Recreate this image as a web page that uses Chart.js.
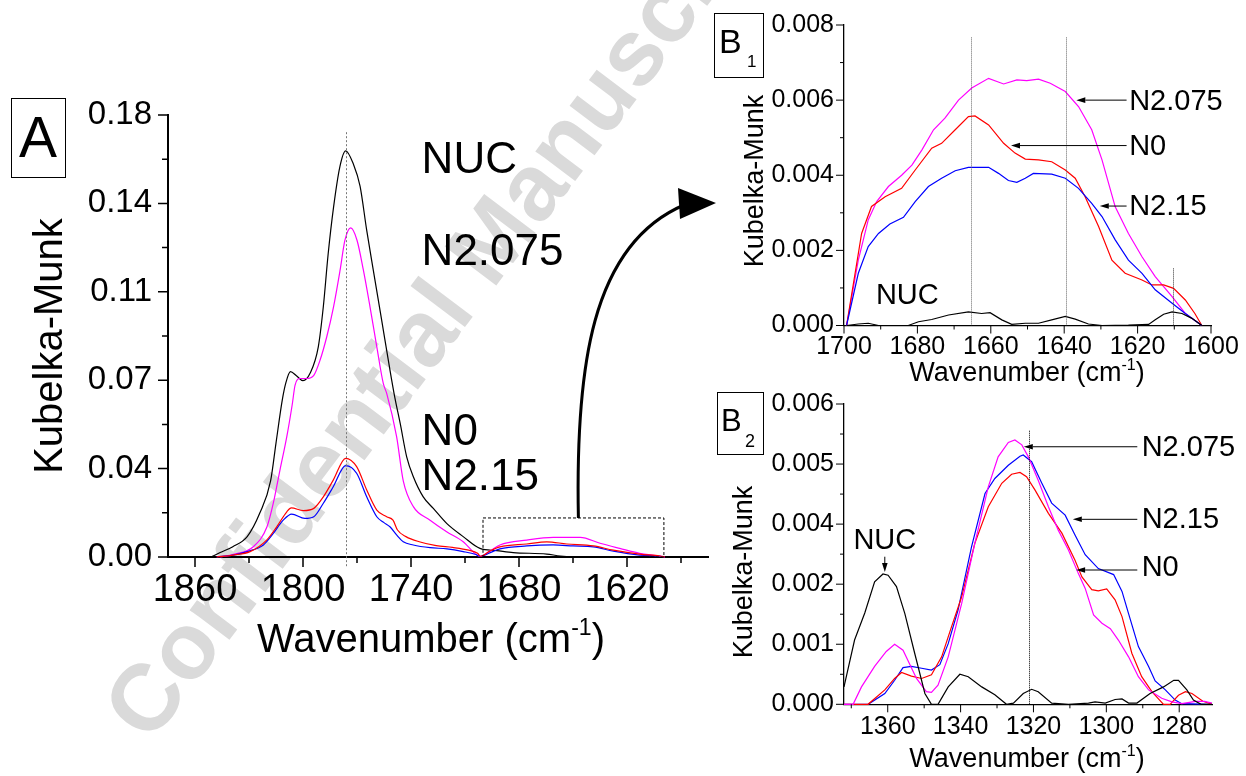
<!DOCTYPE html>
<html>
<head>
<meta charset="utf-8">
<title>Kubelka-Munk spectra</title>
<script src="https://cdn.jsdelivr.net/npm/chart.js@4.4.1/dist/chart.umd.min.js"></script>
<style>
  body { margin: 0; background: #fff; }
  #wrap { position: relative; width: 1246px; height: 776px; overflow: hidden; }
  canvas { position: absolute; left: 0; top: 0; }
</style>
</head>
<body>
<div id="wrap">
  <canvas id="chartA" width="1246" height="776"></canvas>
  <canvas id="chartB1" width="1246" height="776"></canvas>
  <canvas id="chartB2" width="1246" height="776"></canvas>
</div>
<script>
// ---- Panel A: full carbonyl region ----
const aNucX = [1851, 1846, 1839, 1831, 1824, 1818, 1815, 1811.5, 1809.5, 1807, 1803.5, 1800, 1796, 1791.5, 1788.7, 1786, 1783, 1779.5, 1776.3, 1772, 1768.3, 1764.6, 1761, 1756.3, 1752, 1749, 1746, 1742.4, 1738.7, 1733.2, 1727.6, 1720.2, 1711, 1701.7, 1692.4, 1683.2, 1664.6, 1657, 1640, 1600];
const aNucY = [0, 0.0018, 0.0042, 0.0083, 0.0179, 0.031, 0.0464, 0.064, 0.071, 0.0755, 0.0737, 0.0718, 0.0749, 0.0856, 0.102, 0.1236, 0.1426, 0.159, 0.1654, 0.160, 0.151, 0.133, 0.117, 0.0965, 0.0775, 0.065, 0.0544, 0.0408, 0.0327, 0.0245, 0.0198, 0.0137, 0.0083, 0.0035, 0.0026, 0.0018, 0.0012, 0.0004, 0, 0];
const aN2075X = [1846, 1838.7, 1827.6, 1820, 1816.5, 1812.8, 1809, 1806, 1804.4, 1801.7, 1798, 1794, 1790.6, 1786.8, 1783, 1779.4, 1776.7, 1773.5, 1770, 1766.5, 1762.8, 1759, 1755.4, 1753.5, 1748, 1744.3, 1738.7, 1729.4, 1720.2, 1711, 1703.5, 1701.5, 1696, 1690.6, 1675.7, 1661, 1646, 1635, 1624, 1613, 1601.7, 1599];
const aN2075Y = [0, 0.0011, 0.0042, 0.0123, 0.0219, 0.0354, 0.049, 0.062, 0.070, 0.0727, 0.0727, 0.074, 0.080, 0.0897, 0.102, 0.1168, 0.129, 0.134, 0.129, 0.117, 0.102, 0.0856, 0.0707, 0.0666, 0.049, 0.031, 0.0205, 0.015, 0.0103, 0.0062, 0.0008, 0.0003, 0.0025, 0.0049, 0.0069, 0.008, 0.008, 0.0056, 0.0035, 0.0015, 0.0004, 0];
const aN0X = [1848, 1838.7, 1829.4, 1820.2, 1814.6, 1809, 1806.5, 1799.8, 1794, 1788.7, 1783.2, 1776.3, 1770.2, 1764.6, 1759, 1753.5, 1750, 1747.5, 1742.8, 1735.4, 1726, 1717, 1708, 1703, 1701.5, 1696, 1690.6, 1675.7, 1664.6, 1653.5, 1638.7, 1627.6, 1613, 1601.7, 1599];
const aN0Y = [0, 0.0008, 0.0022, 0.0069, 0.0123, 0.0184, 0.0200, 0.0189, 0.0198, 0.0245, 0.0313, 0.0402, 0.0368, 0.0273, 0.0191, 0.0164, 0.015, 0.011, 0.0083, 0.0062, 0.0046, 0.0039, 0.0028, 0.0015, 0.0003, 0.0025, 0.0041, 0.0053, 0.0062, 0.0053, 0.0045, 0.0028, 0.0012, 0.0004, 0];
const aN215X = [1848, 1838.7, 1831, 1822, 1816.5, 1811, 1806.3, 1799, 1794, 1788.7, 1783.2, 1776.3, 1770.2, 1764.6, 1759, 1755, 1751.7, 1748, 1744.3, 1738.7, 1729.4, 1720, 1711, 1704, 1701.5, 1696, 1690.6, 1675.7, 1661, 1650, 1638.7, 1627.6, 1613, 1601.7, 1599];
const aN215Y = [0, 0.0008, 0.0022, 0.0049, 0.0096, 0.015, 0.0175, 0.0157, 0.0164, 0.0219, 0.0286, 0.0372, 0.0341, 0.0245, 0.0164, 0.014, 0.0123, 0.009, 0.0062, 0.0049, 0.0038, 0.0033, 0.0022, 0.001, 0.0002, 0.0018, 0.0033, 0.0045, 0.0049, 0.0045, 0.0041, 0.0024, 0.0008, 0.0003, 0];

const aXTicks = [1860, 1800, 1740, 1680, 1620];
const aXMinor = [1830, 1770, 1710, 1650, 1590];
const aYTicks = [0, 0.036, 0.072, 0.108, 0.144, 0.18];
const aYLabels = ['0.00', '0.04', '0.07', '0.11', '0.14', '0.18'];
const aYMinor = [0.018, 0.054, 0.09, 0.126, 0.162];

// ---- Panel B1: 1700-1600 cm-1 ----
const b1NucX = [1699.3, 1696.1, 1693.4, 1690.6, 1682.5, 1679.7, 1676.1, 1671.5, 1666.1, 1662.5, 1660.2, 1657, 1654.3, 1650.6, 1647, 1643.4, 1639.7, 1637, 1633.4, 1629.7, 1622.5, 1617, 1615.2, 1612.9, 1610.6, 1607.9, 1605.2, 1602.5];
const b1NucY = [0, 0.00004, 0.00006, 0, 0, 0.0001, 0.00016, 0.00028, 0.00036, 0.00032, 0.00034, 0.00015, 0.00003, 0.00006, 0.00006, 0.00015, 0.00024, 0.00017, 0.00004, 0, 0.00001, 0.00003, 0.00015, 0.0003, 0.00036, 0.00032, 0.00019, 0];
const b1N2075X = [1699.3, 1696.1, 1693.4, 1691.1, 1687.9, 1684.3, 1681.5, 1678.8, 1675.6, 1672.5, 1668.8, 1665.2, 1660.6, 1656.5, 1652.9, 1650.2, 1647, 1643.8, 1639.7, 1636.1, 1632.5, 1629.7, 1626.1, 1622.5, 1618.8, 1615.2, 1610.6, 1607, 1602.5];
const b1N2075Y = [0, 0.00174, 0.00281, 0.0033, 0.0037, 0.0040, 0.00427, 0.00467, 0.00521, 0.00552, 0.006, 0.00632, 0.00658, 0.00643, 0.00654, 0.00652, 0.00656, 0.00645, 0.00623, 0.00583, 0.00521, 0.00441, 0.00316, 0.00245, 0.00183, 0.0013, 0.00077, 0.00032, 0];
const b1N0X = [1699.3, 1695.2, 1692.5, 1688.8, 1684.3, 1680.6, 1676.1, 1673.4, 1669.7, 1666.1, 1664.3, 1660.6, 1656.5, 1653.4, 1650.6, 1647, 1643.4, 1639.7, 1637, 1634.3, 1630.6, 1627, 1623.4, 1618.8, 1616.1, 1612.9, 1610.2, 1607, 1604.4, 1602.5];
const b1N0Y = [0, 0.00245, 0.00317, 0.00343, 0.00365, 0.00414, 0.00472, 0.00485, 0.00521, 0.00556, 0.00558, 0.00534, 0.00485, 0.00459, 0.00443, 0.00441, 0.00436, 0.00414, 0.00392, 0.00343, 0.00263, 0.00174, 0.00139, 0.00121, 0.00108, 0.00108, 0.00099, 0.00068, 0.00032, 0];
const b1N215X = [1699.3, 1696.1, 1693.4, 1690.6, 1687.5, 1683.8, 1680.6, 1677, 1673.4, 1669.7, 1666.1, 1660.6, 1657.9, 1655.2, 1652.9, 1650.6, 1648.4, 1643.4, 1639.7, 1636.1, 1632.5, 1629.7, 1626.1, 1622.5, 1618.8, 1615.2, 1610.6, 1607, 1602.5];
const b1N215Y = [0, 0.00139, 0.0021, 0.00245, 0.0027, 0.00288, 0.0033, 0.0037, 0.00392, 0.00412, 0.00421, 0.00421, 0.00405, 0.00386, 0.00381, 0.00392, 0.00405, 0.00403, 0.00392, 0.00365, 0.00325, 0.0029, 0.00228, 0.00174, 0.00139, 0.00095, 0.00059, 0.00032, 0];

const b1XTicks = [1700, 1680, 1660, 1640, 1620, 1600];
const b1XMinor = [1690, 1670, 1650, 1630, 1610];
const b1YTicks = [0, 0.002, 0.004, 0.006, 0.008];
const b1YLabels = ['0.000', '0.002', '0.004', '0.006', '0.008'];
const b1YMinor = [0.001, 0.003, 0.005, 0.007];

// ---- Panel B2: 1372-1271 cm-1 (values in axis positions; labels skip 0.003) ----
const b2NucX = [1372, 1369.1, 1366.3, 1363.6, 1361.3, 1359.9, 1357.6, 1355.3, 1352.6, 1349.8, 1348, 1346.2, 1343.4, 1340.2, 1337.9, 1334.2, 1330.6, 1327.4, 1325.5, 1322.8, 1320.5, 1318.7, 1315, 1310.4, 1304.9, 1303.1, 1300.3, 1297.6, 1295.7, 1293.9, 1291.6, 1288, 1284.3, 1281.5, 1280.2, 1277.9, 1276.1, 1274, 1271];
const b2NucY = [0.00029, 0.00107, 0.00152, 0.00204, 0.00217, 0.00215, 0.00196, 0.00151, 0.00085, 0.00018, 0, 0, 0.00029, 0.0005, 0.00046, 0.00029, 0.00016, 0, 0.00002, 0.00018, 0.00025, 0.00021, 0.00002, 0, 0.00002, 0.00004, 0.00002, 0.00008, 0.00009, 0.00002, 0.00002, 0.00018, 0.00029, 0.0004, 0.0004, 0.00024, 0.00007, 0, 0];
const b2N2075X = [1372, 1369.5, 1367.2, 1363.6, 1360.4, 1358.1, 1355.8, 1352.1, 1349.4, 1348, 1346.2, 1343.4, 1339.7, 1336.1, 1332.4, 1329.7, 1326.9, 1325.1, 1323.2, 1321.4, 1318.7, 1315.9, 1313.2, 1310.4, 1307.7, 1305.8, 1303.5, 1301.2, 1298.9, 1296.7, 1293.9, 1291.2, 1288.4, 1284.8, 1282, 1279.3, 1275.5, 1273, 1271];
const b2N2075Y = [0, 0, 0.00029, 0.00063, 0.00088, 0.001, 0.0009, 0.00043, 0.00021, 0.0002, 0.00032, 0.00079, 0.00168, 0.00268, 0.00362, 0.00412, 0.00436, 0.0044, 0.00432, 0.00412, 0.00373, 0.00329, 0.0029, 0.00257, 0.00218, 0.00193, 0.00149, 0.00135, 0.00126, 0.00107, 0.00079, 0.00046, 0.00024, 0.0001, 0.00004, 0.00001, 0.00005, 0.00005, 0.00002];
const b2N215X = [1372, 1365.4, 1360.8, 1358.1, 1355.8, 1353.5, 1350.7, 1348, 1345.7, 1343.4, 1340.7, 1337, 1333.3, 1330.6, 1326.9, 1323.7, 1322.8, 1320.5, 1317.7, 1315, 1311.3, 1308.6, 1305.8, 1302.2, 1298, 1295.7, 1293.9, 1291.2, 1288.4, 1286.6, 1283.8, 1281.1, 1279.3, 1271];
const b2N215Y = [0, 0, 0.00018, 0.0004, 0.00061, 0.00063, 0.0006, 0.00057, 0.00066, 0.00101, 0.00157, 0.00262, 0.00351, 0.00376, 0.00398, 0.00413, 0.00415, 0.00404, 0.00368, 0.00335, 0.00315, 0.00282, 0.00249, 0.00226, 0.00216, 0.00188, 0.00151, 0.00096, 0.00063, 0.00039, 0.00024, 0.00007, 0.00001, 0];
const b2N0X = [1372, 1365.4, 1360.8, 1358.1, 1356.2, 1353.5, 1350.7, 1348, 1345.2, 1342.5, 1339.7, 1336.1, 1332.4, 1328.7, 1326, 1323.7, 1321.9, 1319.6, 1315.9, 1312.2, 1308.6, 1306.7, 1304, 1302.2, 1299.9, 1297.6, 1295.7, 1293, 1290.3, 1287.5, 1284.3, 1282.5, 1280.2, 1278.3, 1276.5, 1273.5, 1271];
const b2N0Y = [0, 0, 0.00024, 0.00043, 0.00053, 0.00047, 0.00043, 0.00049, 0.00079, 0.00129, 0.00179, 0.00268, 0.00329, 0.00368, 0.00383, 0.00386, 0.00379, 0.00357, 0.00318, 0.00285, 0.0024, 0.00212, 0.00191, 0.00189, 0.00192, 0.00174, 0.00146, 0.00085, 0.00046, 0.00021, 0, 0, 0.00015, 0.00021, 0.00018, 0.00005, 0];

const b2XTicks = [1360, 1340, 1320, 1300, 1280];
const b2XMinor = [1370, 1350, 1330, 1310, 1290];
const b2YTicks = [0, 0.001, 0.002, 0.003, 0.004, 0.005];
const b2YLabels = ['0.000', '0.001', '0.002', '0.004', '0.005', '0.006'];
const b2YMinor = [0.0005, 0.0015, 0.0025, 0.0035, 0.0045];

const FONT = '"Liberation Sans", Arial, Helvetica, sans-serif';
const BLACK = '#000000', MAGENTA = '#ff00ff', RED = '#ff0000', BLUE = '#0000ff';

function series(label, xs, ys, color, smooth) {
  return {
    label,
    data: xs.map((x, i) => ({ x, y: ys[i] })),
    borderColor: color,
    borderWidth: 1.2,
    pointRadius: 0,
    fill: false,
    tension: 0,
    cubicInterpolationMode: smooth ? 'monotone' : 'default',
    clip: 3
  };
}

function axes(o) {
  const grid = { drawOnChartArea: false, drawTicks: false };
  const border = { color: '#000', width: o.axisW };
  return {
    x: {
      type: 'linear', reverse: true, min: o.xMin, max: o.xMax,
      afterBuildTicks: s => { s.ticks = o.xTicks.map(v => ({ value: v })); },
      afterFit: s => { s.height = o.xHeight; },
      ticks: { autoSkip: false, maxRotation: 0, padding: o.xPad, color: '#000',
        font: { family: FONT, size: o.xFont }, callback: v => String(v) },
      grid, border
    },
    y: {
      type: 'linear', min: o.yMin, max: o.yMax,
      afterBuildTicks: s => { s.ticks = o.yTicks.map(v => ({ value: v })); },
      afterFit: s => { s.width = o.yWidth; },
      ticks: { autoSkip: false, padding: o.yPad, color: '#000',
        font: { family: FONT, size: o.yFont }, callback: (v, i) => o.yLabels[i] },
      grid, border
    }
  };
}

// ---- drawing helpers ----
function tickMarks(chart, t) {
  const { ctx, chartArea: a, scales: { x, y } } = chart;
  ctx.save();
  ctx.strokeStyle = '#000';
  ctx.lineWidth = t.width;
  ctx.beginPath();
  const vx = (vals, len) => vals.forEach(v => {
    const p = x.getPixelForValue(v);
    ctx.moveTo(p, a.bottom); ctx.lineTo(p, a.bottom + len);
  });
  const vy = (vals, len) => vals.forEach(v => {
    const p = y.getPixelForValue(v);
    ctx.moveTo(a.left, p); ctx.lineTo(a.left - len, p);
  });
  vx(t.xMajor, t.major); vx(t.xMinor, t.minor);
  vy(t.yMajor, t.major); vy(t.yMinor, t.minor);
  ctx.stroke();
  ctx.restore();
}

function label(ctx, str, x, y, size, align) {
  ctx.save();
  ctx.font = size + 'px ' + FONT;
  ctx.fillStyle = '#000';
  ctx.textAlign = align || 'left';
  ctx.textBaseline = 'middle';
  ctx.fillText(str, x, y);
  ctx.restore();
}

function yTitle(ctx, str, x, y, size) {
  ctx.save();
  ctx.translate(x, y);
  ctx.rotate(-Math.PI / 2);
  ctx.font = size + 'px ' + FONT;
  ctx.fillStyle = '#000';
  ctx.textAlign = 'center';
  ctx.textBaseline = 'alphabetic';
  ctx.fillText(str, 0, 0);
  ctx.restore();
}

function wavenumberTitle(ctx, cx, by, size) {
  const a = 'Wavenumber (cm', b = '-1', c = ')', sup = Math.round(size * 0.58);
  ctx.save();
  ctx.fillStyle = '#000';
  ctx.textAlign = 'left';
  ctx.textBaseline = 'alphabetic';
  ctx.font = size + 'px ' + FONT;
  const wa = ctx.measureText(a).width, wc = ctx.measureText(c).width;
  ctx.font = sup + 'px ' + FONT;
  const wb = ctx.measureText(b).width;
  let x = cx - (wa + wb + wc) / 2;
  ctx.font = size + 'px ' + FONT;
  ctx.fillText(a, x, by); x += wa;
  ctx.font = sup + 'px ' + FONT;
  ctx.fillText(b, x, by - size * 0.42); x += wb;
  ctx.font = size + 'px ' + FONT;
  ctx.fillText(c, x, by);
  ctx.restore();
}

function arrow(ctx, x1, y1, x2, y2) {
  const ang = Math.atan2(y2 - y1, x2 - x1), L = 9, W = 2.8;
  ctx.save();
  ctx.strokeStyle = '#000'; ctx.fillStyle = '#000'; ctx.lineWidth = 1;
  ctx.beginPath(); ctx.moveTo(x1, y1); ctx.lineTo(x2 - L * Math.cos(ang), y2 - L * Math.sin(ang)); ctx.stroke();
  ctx.translate(x2, y2); ctx.rotate(ang);
  ctx.beginPath(); ctx.moveTo(0, 0); ctx.lineTo(-L, -W); ctx.lineTo(-L, W); ctx.closePath(); ctx.fill();
  ctx.restore();
}

function vLine(chart, wn, top, extra, color, dash) {
  const { ctx, chartArea: a, scales: { x, y } } = chart;
  const px = Math.round(x.getPixelForValue(wn)) + 0.5;
  ctx.save();
  ctx.strokeStyle = color; ctx.lineWidth = 1; ctx.setLineDash(dash);
  ctx.beginPath(); ctx.moveTo(px, y.getPixelForValue(top)); ctx.lineTo(px, a.bottom + extra); ctx.stroke();
  ctx.restore();
}

function panelTag(ctx, r, letter, size, lx, ly, sub, subSize, sx, sy) {
  ctx.save();
  ctx.strokeStyle = '#000'; ctx.lineWidth = 1;
  ctx.strokeRect(r[0] + 0.5, r[1] + 0.5, r[2], r[3]);
  ctx.fillStyle = '#000'; ctx.textBaseline = 'alphabetic';
  ctx.font = size + 'px ' + FONT;
  ctx.textAlign = sub ? 'left' : 'center';
  ctx.fillText(letter, lx, ly);
  if (sub) {
    ctx.font = subSize + 'px ' + FONT;
    ctx.fillText(sub, sx, sy);
  }
  ctx.restore();
}

function watermark(ctx) {
  ctx.save();
  ctx.translate(150, 745);
  ctx.rotate(-53 * Math.PI / 180);
  ctx.font = 'bold 94px ' + FONT;
  ctx.fillStyle = '#dadada';
  ctx.textBaseline = 'alphabetic';
  ctx.fillText('Confidential Manuscript', 0, 0);
  ctx.restore();
}

// ---- Panel A ----
const decoA = {
  id: 'decoA',
  beforeDraw(chart) { watermark(chart.ctx); },
  afterDatasetsDraw(chart) {
    const { ctx, scales: { x, y } } = chart;
    tickMarks(chart, { xMajor: aXTicks, xMinor: aXMinor, yMajor: aYTicks, yMinor: aYMinor, major: 10, minor: 6, width: 1.5 });
    vLine(chart, 1776.3, 0.173, 11, '#777', [2, 2]);

    // dashed zoom box over 1700-1600
    ctx.save();
    ctx.strokeStyle = '#000'; ctx.lineWidth = 1; ctx.setLineDash([3, 2]);
    const bx1 = x.getPixelForValue(1700), bx2 = x.getPixelForValue(1599.5);
    const by1 = y.getPixelForValue(0.0159), by2 = y.getPixelForValue(0);
    ctx.strokeRect(bx1, by1, bx2 - bx1, by2 - by1);
    ctx.restore();

    // curved pointer to B1
    const sx = x.getPixelForValue(1647);
    ctx.save();
    ctx.strokeStyle = '#000'; ctx.fillStyle = '#000'; ctx.lineWidth = 3;
    ctx.beginPath();
    ctx.moveTo(sx, by1);
    ctx.bezierCurveTo(sx - 3, 370, sx + 12, 245, 684, 205);
    ctx.stroke();
    ctx.beginPath(); ctx.moveTo(716, 203); ctx.lineTo(678, 188); ctx.lineTo(680, 219); ctx.closePath(); ctx.fill();
    ctx.restore();

    const lx = x.getPixelForValue(1734.1);
    label(ctx, 'NUC', lx, y.getPixelForValue(0.1613), 44);
    label(ctx, 'N2.075', lx, y.getPixelForValue(0.124), 44);
    label(ctx, 'N0', lx, y.getPixelForValue(0.0507), 44);
    label(ctx, 'N2.15', lx, y.getPixelForValue(0.0324), 44);

    panelTag(ctx, [11, 98, 54, 79], 'A', 57, 38, 157);
    yTitle(ctx, 'Kubelka-Munk', 62, 346, 40);
    wavenumberTitle(ctx, 431, 652, 40);
  }
};

new Chart(document.getElementById('chartA'), {
  type: 'line',
  data: {
    datasets: [
      series('N0', aN0X, aN0Y, RED, true),
      series('N2.15', aN215X, aN215Y, BLUE, true),
      series('N2.075', aN2075X, aN2075Y, MAGENTA, true),
      series('NUC', aNucX, aNucY, BLACK, true)
    ]
  },
  options: {
    responsive: false, animation: false, devicePixelRatio: 1, events: [],
    layout: { padding: { left: 0, top: 115, right: 538, bottom: 0 } },
    plugins: { legend: { display: false }, tooltip: { enabled: false } },
    scales: axes({ xMin: 1575, xMax: 1875, xTicks: aXTicks, xHeight: 219, xPad: 11, xFont: 38,
      yMin: 0, yMax: 0.18, yTicks: aYTicks, yLabels: aYLabels, yWidth: 168, yPad: 16, yFont: 33, axisW: 2 })
  },
  plugins: [decoA]
});

// ---- Panel B1 ----
const decoB1 = {
  id: 'decoB1',
  afterDatasetsDraw(chart) {
    const { ctx, scales: { x, y } } = chart;
    tickMarks(chart, { xMajor: b1XTicks, xMinor: b1XMinor, yMajor: b1YTicks, yMinor: b1YMinor, major: 8, minor: 4, width: 1 });
    vLine(chart, 1665.4, 0.00767, 0, '#666', [1, 1]);
    vLine(chart, 1639.5, 0.00767, 0, '#666', [1, 1]);
    vLine(chart, 1610.4, 0.00152, 0, '#333', [1, 1]);

    const tail = x.getPixelForValue(1623), tx = x.getPixelForValue(1622.3);
    arrow(ctx, tail, y.getPixelForValue(0.0060), x.getPixelForValue(1636.7), y.getPixelForValue(0.0060));
    arrow(ctx, tail, y.getPixelForValue(0.00479), x.getPixelForValue(1654.5), y.getPixelForValue(0.00479));
    arrow(ctx, tail, y.getPixelForValue(0.00318), x.getPixelForValue(1630.3), y.getPixelForValue(0.00318));
    label(ctx, 'N2.075', tx, y.getPixelForValue(0.00595), 29);
    label(ctx, 'N0', tx, y.getPixelForValue(0.00475), 29);
    label(ctx, 'N2.15', tx, y.getPixelForValue(0.00316), 29);
    label(ctx, 'NUC', x.getPixelForValue(1691.3), y.getPixelForValue(0.00079), 29);

    panelTag(ctx, [714, 13, 49, 64], 'B', 34, 719, 53, '1', 17, 747, 67);
    yTitle(ctx, 'Kubelka-Munk', 763, 181, 27);
    wavenumberTitle(ctx, 1027, 381, 27);
  }
};

new Chart(document.getElementById('chartB1'), {
  type: 'line',
  data: {
    datasets: [
      series('NUC', b1NucX, b1NucY, BLACK, false),
      series('N2.15', b1N215X, b1N215Y, BLUE, false),
      series('N0', b1N0X, b1N0Y, RED, false),
      series('N2.075', b1N2075X, b1N2075Y, MAGENTA, false)
    ]
  },
  options: {
    responsive: false, animation: false, devicePixelRatio: 1, events: [],
    layout: { padding: { left: 0, top: 25, right: 35, bottom: 0 } },
    plugins: { legend: { display: false }, tooltip: { enabled: false } },
    scales: axes({ xMin: 1600, xMax: 1700, xTicks: b1XTicks, xHeight: 450.5, xPad: 7, xFont: 25,
      yMin: 0, yMax: 0.008, yTicks: b1YTicks, yLabels: b1YLabels, yWidth: 844, yPad: 10, yFont: 25, axisW: 1.3 })
  },
  plugins: [decoB1]
});

// ---- Panel B2 ----
const decoB2 = {
  id: 'decoB2',
  afterDatasetsDraw(chart) {
    const { ctx, scales: { x, y } } = chart;
    tickMarks(chart, { xMajor: b2XTicks, xMinor: b2XMinor, yMajor: b2YTicks, yMinor: b2YMinor, major: 8, minor: 4, width: 1 });
    vLine(chart, 1321.1, 0.004555, 0, '#000', [1, 1]);

    const tail = x.getPixelForValue(1291.5), tx = x.getPixelForValue(1290.3);
    arrow(ctx, tail, y.getPixelForValue(0.004288), x.getPixelForValue(1322.65), y.getPixelForValue(0.004288));
    arrow(ctx, tail, y.getPixelForValue(0.00308), x.getPixelForValue(1309.2), y.getPixelForValue(0.00308));
    arrow(ctx, tail, y.getPixelForValue(0.002236), x.getPixelForValue(1308.3), y.getPixelForValue(0.002236));
    label(ctx, 'N2.075', tx, y.getPixelForValue(0.004275), 29);
    label(ctx, 'N2.15', tx, y.getPixelForValue(0.003068), 29);
    label(ctx, 'N0', tx, y.getPixelForValue(0.002269), 29);

    const nx = x.getPixelForValue(1360.8);
    label(ctx, 'NUC', nx, y.getPixelForValue(0.002719), 29, 'center');
    arrow(ctx, nx, y.getPixelForValue(0.002457), nx, y.getPixelForValue(0.002202));

    panelTag(ctx, [717, 392, 46, 62], 'B', 31, 721, 431, '2', 18, 745, 447);
    yTitle(ctx, 'Kubelka-Munk', 752, 572, 27);
    wavenumberTitle(ctx, 1027, 767, 27);
  }
};

new Chart(document.getElementById('chartB2'), {
  type: 'line',
  data: {
    datasets: [
      series('NUC', b2NucX, b2NucY, BLACK, false),
      series('N2.075', b2N2075X, b2N2075Y, MAGENTA, false),
      series('N0', b2N0X, b2N0Y, RED, false),
      series('N2.15', b2N215X, b2N215Y, BLUE, false)
    ]
  },
  options: {
    responsive: false, animation: false, devicePixelRatio: 1, events: [],
    layout: { padding: { left: 0, top: 404, right: 34, bottom: 0 } },
    plugins: { legend: { display: false }, tooltip: { enabled: false } },
    scales: axes({ xMin: 1271, xMax: 1372, xTicks: b2XTicks, xHeight: 71.7, xPad: 8, xFont: 25,
      yMin: 0, yMax: 0.005, yTicks: b2YTicks, yLabels: b2YLabels, yWidth: 844, yPad: 10, yFont: 25, axisW: 1.3 })
  },
  plugins: [decoB2]
});
</script>
</body>
</html>
